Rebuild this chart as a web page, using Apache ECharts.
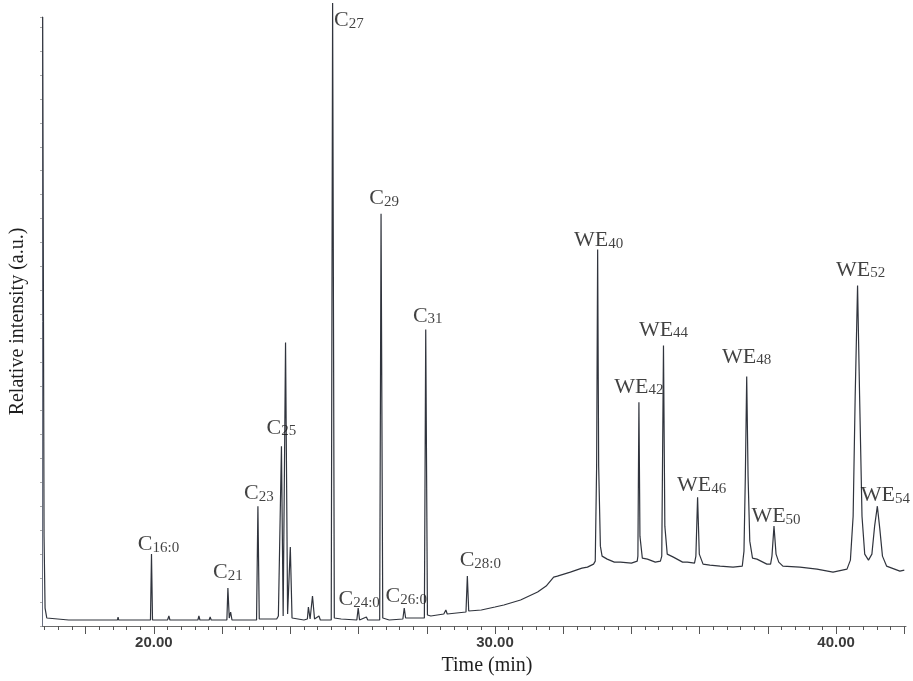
<!DOCTYPE html>
<html>
<head>
<meta charset="utf-8">
<script src="https://cdn.jsdelivr.net/npm/echarts@6/dist/echarts.min.js"></script>
<style>
html,body{margin:0;padding:0;background:#fff;}
#chart{width:913px;height:681px;}
</style>
</head>
<body>
<div id="chart"></div>
<script>
// Chromatogram trace: [time (min), relative intensity (a.u.)]
const trace = [
  [16.74,610],[16.78,90],[16.81,18],[16.86,8],[17.5,6],[18.5,6],[18.93,6],[18.95,9],[18.97,6],
  [19.5,6],[19.90,6],[19.93,72],[19.96,6],
  [20.40,6],[20.44,10],[20.47,6],
  [21.00,6],[21.03,8],[21.05,6],
  [21.29,6],[21.32,10],[21.35,6],
  [21.62,6],[21.65,9],[21.68,6],
  [22.14,6],[22.17,38],[22.21,8],[22.25,14],[22.29,6],
  [22.60,6],[23.01,6],[23.05,120],[23.09,7],
  [23.60,7],[23.65,10],[23.68,8],[23.74,180],[23.79,10],[23.86,284],[23.92,12],[24.00,79],[24.05,8],
  [24.40,6],[24.50,7],[24.53,19],[24.58,7],[24.65,30],[24.71,7],[24.84,10],[24.88,6],
  [25.20,6],[25.24,624],[25.29,8],[25.49,7],[25.52,6],
  [25.95,6],[25.99,18],[26.03,6],[26.23,9],[26.27,6],
  [26.62,6],[26.66,413],[26.71,8],[26.90,6],
  [27.30,7],[27.34,18],[27.38,8],
  [27.93,8],[27.97,297],[28.02,11],[28.12,10],
  [28.50,12],[28.56,16],[28.60,12],
  [29.15,14],[29.19,50],[29.23,15],
  [29.60,16],[30.00,19],[30.26,21],[30.75,26],[31.25,34],[31.50,40],[31.72,49],[31.83,50],
  [32.21,54],[32.55,58],[32.71,59],[32.89,62],
  [32.94,65],[32.98,160],[33.01,377],[33.04,160],[33.09,80],[33.14,70],[33.29,67],[33.50,64],[33.68,64],[34.00,63],[34.17,65],
  [34.19,70],[34.22,224],[34.25,90],[34.32,68],[34.47,67],[34.70,64],[34.85,65],
  [34.89,70],[34.94,281],[34.98,100],[35.05,72],[35.23,69],[35.50,64],[35.64,64],[35.85,63],
  [35.89,70],[35.94,129],[35.99,72],[36.10,62],[36.30,61],[36.60,60],[36.98,59],[37.25,60],
  [37.30,75],[37.34,150],[37.38,250],[37.42,150],[37.47,85],[37.55,68],[37.68,67],[37.97,62],[38.08,62],
  [38.12,70],[38.18,100],[38.24,72],[38.32,64],[38.44,60],[38.94,59],[39.44,57],[39.91,54],[40.32,57],
  [40.42,66],[40.50,110],[40.56,230],[40.63,341],[40.69,230],[40.76,110],[40.84,72],[40.95,66],
  [41.05,72],[41.13,100],[41.21,120],[41.28,98],[41.36,70],[41.48,60],[41.87,55],[42.00,56]
];

// Labelled peaks
const peakNames = ['C16:0','C21','C23','C25','C27','C24:0','C29','C26:0','C31','C28:0',
                   'WE40','WE42','WE44','WE46','WE48','WE50','WE52','WE54'];
const peakTimes = [19.93,22.17,23.05,23.74,25.24,25.99,26.66,27.34,27.97,29.19,
                   33.01,34.22,34.94,35.94,37.38,38.18,40.63,41.21];
const peakHeights = [72,38,120,180,624,18,413,18,297,50,
                     377,224,281,129,250,100,341,120];

// Axis ticks
const xMin = 16.72, xMax = 42.05;
const xLabelValues = [20, 30, 40];
const xMajorTicks = [18,20,22,24,26,28,30,32,34,36,38,40,42];
const xMinorTicks = [];
for (let i = 0; i <= 63; i++) xMinorTicks.push(+(16.8 + 0.4 * i).toFixed(2));

// label nudges [dx, dy] (style)
const nudge = {
  'C16:0':[7,6],'C21':[0,0],'C23':[1,3],'C25':[0,-3],'C24:0':[1,7],'C29':[3,0],
  'C26:0':[2,4],'C31':[2,2],'C28:0':[13,0],'WE40':[1,6],'WE42':[0,0],'WE44':[0,0],
  'WE46':[4,4],'WE48':[0,-4],'WE50':[2,6],'WE52':[3,0],'WE54':[8,5]
};

function splitName(n){
  const m = n.match(/^([A-Z]+)(.*)$/);
  return '{c|' + m[1] + '}{s|' + m[2] + '}';
}

const labelData = peakNames.map((n, i) => {
  const item = { value: [peakTimes[i], peakHeights[i]], name: n };
  if (n === 'C27') {
    item.label = { position: 'right', offset: [-3, 17] };
  } else {
    item.label = { offset: nudge[n] || [0,0] };
  }
  return item;
});

const serif = '"Liberation Serif","Times New Roman",serif';
const lineColor = '#30343d';

const chart = echarts.init(document.getElementById('chart'), null, {renderer: 'canvas'});
chart.setOption({
  backgroundColor: '#ffffff',
  animation: false,
  grid: { left: 40.7, right: 7, top: 17, bottom: 54 },
  xAxis: [{
    type: 'value', min: xMin, max: xMax,
    name: 'Time (min)', nameLocation: 'middle', nameGap: 30,
    nameTextStyle: { fontFamily: serif, fontSize: 20, color: '#1e1e1e', padding: [0,0,0,26] },
    axisLine: { show: true, lineStyle: { color: '#6a6a6a', width: 1 } },
    axisTick: { show: true, inside: false, length: 4, customValues: xMinorTicks, lineStyle: { color: '#555' } },
    axisLabel: { show: true, customValues: xLabelValues, margin: 9,
      formatter: v => v.toFixed(2),
      fontFamily: '"Liberation Sans",Arial,sans-serif', fontSize: 15, fontWeight: 'bold', color: '#3a3a3a' },
    splitLine: { show: false }
  }, {
    type: 'value', min: xMin, max: xMax, position: 'bottom',
    axisLine: { show: false },
    axisTick: { show: true, inside: false, length: 8, customValues: xMajorTicks, lineStyle: { color: '#555' } },
    axisLabel: { show: false },
    splitLine: { show: false }
  }],
  yAxis: {
    type: 'value', min: 0, max: 610, interval: 24,
    name: 'Relative intensity (a.u.)', nameLocation: 'middle', nameGap: 14,
    nameTextStyle: { fontFamily: serif, fontSize: 20, color: '#1e1e1e' },
    axisLine: { show: true, lineStyle: { color: '#6a7080', width: 1 } },
    axisTick: { show: true, inside: false, length: 2, lineStyle: { color: '#aaa' } },
    axisLabel: { show: false },
    splitLine: { show: false }
  },
  series: [{
    type: 'line',
    data: trace,
    showSymbol: false,
    symbol: 'none',
    clip: false,
    lineStyle: { color: lineColor, width: 1.2 },
    z: 3
  }, {
    type: 'scatter',
    data: labelData,
    symbolSize: 1,
    clip: false,
    itemStyle: { color: 'rgba(0,0,0,0)' },
    label: {
      show: true, position: 'top', distance: 4,
      formatter: p => splitName(p.name),
      rich: {
        c: { fontFamily: serif, fontSize: 22, color: '#111', verticalAlign: 'bottom', lineHeight: 23 },
        s: { fontFamily: serif, fontSize: 15, color: '#111', verticalAlign: 'bottom', lineHeight: 23 }
      }
    },
    z: 4
  }]
});
</script>
</body>
</html>
